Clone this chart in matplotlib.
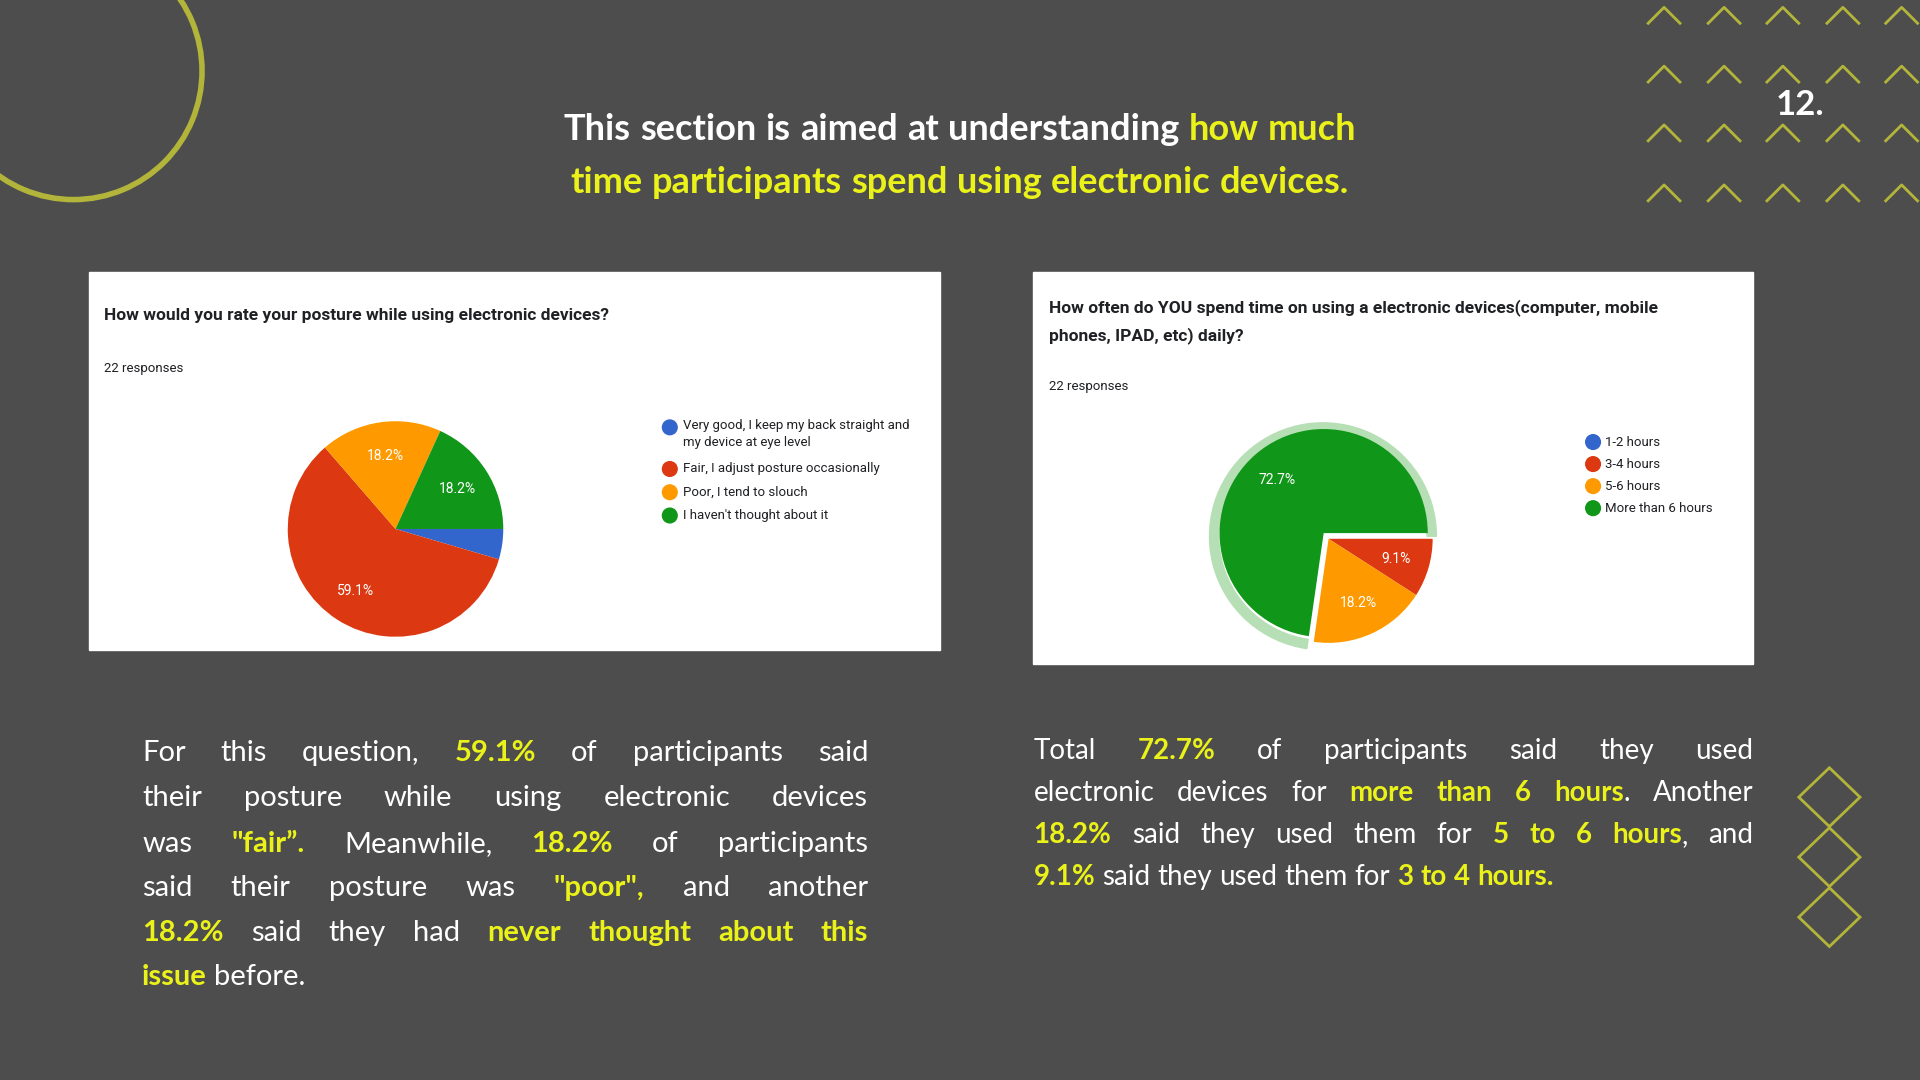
import matplotlib.pyplot as plt
from matplotlib.patches import Rectangle, Ellipse, Arc, Wedge, Polygon

BG = '#4d4d4d'
YEL = '#eaf21a'
OLIVE = '#b3b53a'
PIE_COLORS = ['#3366cc', '#dc3912', '#ff9900', '#109618']

# data
posture_labels = ['Very good, I keep my back straight and\nmy device at eye level',
                  'Fair, I adjust posture occasionally',
                  'Poor, I tend to slouch',
                  "I haven't thought about it"]
posture_counts = [1, 13, 4, 4]
hours_labels = ['1-2 hours', '3-4 hours', '5-6 hours', 'More than 6 hours']
hours_counts = [0, 2, 4, 16]

W, H = 1568, 882  # reference layout units
fig = plt.figure(figsize=(19.2, 10.8), dpi=100, facecolor=BG)
plt.rcParams['font.family'] = ['Lato', 'DejaVu Sans']
renderer = fig.canvas.get_renderer()
SC = 1920 / W


def fx(x):
    return x / W


def fy(y):
    return 1 - y / H


def txt(x, y, s, **kw):
    return fig.text(fx(x), fy(y), s, transform=fig.transFigure, **kw)


# decorations
fig.patches.append(Arc((fx(60), fy(58)), 2 * 105 / W, 2 * 105 / H, theta1=0, theta2=360,
                       transform=fig.transFigure, color=OLIVE, lw=4))
for ry in [12, 60, 108, 157]:
    for cx in [1359, 1408, 1456, 1505, 1553]:
        fig.lines.append(plt.Line2D([fx(cx - 13), fx(cx), fx(cx + 13)],
                                    [fy(ry + 7), fy(ry - 6), fy(ry + 7)],
                                    transform=fig.transFigure, color=OLIVE, lw=2))
for cy in [651, 700, 749]:
    fig.patches.append(Polygon([(fx(1469), fy(cy)), (fx(1494), fy(cy - 24)),
                                (fx(1519), fy(cy)), (fx(1494), fy(cy + 24))],
                               closed=True, fill=False, edgecolor=OLIVE, lw=2,
                               transform=fig.transFigure))
txt(1470, 86, '12.', color='white', fontsize=25, fontweight='bold', ha='center', va='center', zorder=3)


def draw_line(x0, y, width, tokens, size, justify=True, center=False):
    """tokens: (text, bold, yellow, attach)"""
    objs = []
    for t, b, yl, att in tokens:
        o = txt(0, y, t, fontsize=size, fontweight='bold' if b else 'normal',
                color=YEL if yl else 'white', va='center')
        objs.append((o, o.get_window_extent(renderer).width, att))
    total = sum(w for _, w, _ in objs)
    gaps = sum(1 for _, _, a in objs[1:] if not a)
    a1 = txt(0, y, 'a a', fontsize=size)
    a2 = txt(0, y, 'aa', fontsize=size)
    sp = a1.get_window_extent(renderer).width - a2.get_window_extent(renderer).width
    a1.remove(); a2.remove()
    gap = (width * SC - total) / gaps if (justify and gaps) else sp
    cur = x0 * SC
    if center:
        cur = x0 * SC - (total + gap * gaps) / 2
    for i, (o, w, att) in enumerate(objs):
        if i > 0 and not att:
            cur += gap
        o.set_x(cur / 1920)
        cur += w


def parse(s):
    # segments separated by '|': prefix '*' = bold yellow; '+' = attach to previous
    out = []
    for seg in s.split('|'):
        by = seg.startswith('*')
        seg = seg.lstrip('*')
        att = seg.startswith('+')
        seg = seg.lstrip('+')
        for i, wd in enumerate(seg.split()):
            out.append((wd, by, by, att and i == 0))
    return out


# title
draw_line(784, 106, 0, [(w, True, False, False) for w in 'This section is aimed at understanding'.split()]
          + [(w, True, True, False) for w in 'how much'.split()], 26, justify=False, center=True)
draw_line(784, 149, 0, [(w, True, True, False) for w in
                        'time participants spend using electronic devices.'.split()], 26,
          justify=False, center=True)

# panels
for x0, y0, x1, y1 in [(73, 222, 768, 531), (844, 222, 1432, 542)]:
    fig.patches.append(Rectangle((fx(x0), fy(y1)), (x1 - x0) / W, (y1 - y0) / H,
                                 color='white', transform=fig.transFigure, zorder=0))
kw = dict(family='Roboto', color='#202124')
txt(85, 258, 'How would you rate your posture while using electronic devices?',
    fontsize=12.5, fontweight='bold', va='center', **kw)
txt(85, 301, '22 responses', fontsize=9.5, va='center', **kw)
txt(857, 251, 'How often do YOU spend time on using a electronic devices(computer, mobile',
    fontsize=12.5, fontweight='bold', va='center', **kw)
txt(857, 274, 'phones, IPAD, etc) daily?', fontsize=12.5, fontweight='bold', va='center', **kw)
txt(857, 316, '22 responses', fontsize=9.5, va='center', **kw)


def pct(p):
    return '' if p < 5 else f'{p:.1f}%'


def pie_ax(cx, cy, r):
    s = r * 2.4
    a = fig.add_axes([fx(cx - s / 2), fy(cy + s / 2), s / W, s / H])
    a.set_zorder(3)
    return a


ax1 = pie_ax(323, 432, 88)
ax1.pie(posture_counts, colors=PIE_COLORS, startangle=0, counterclock=False,
        autopct=pct, pctdistance=0.68, radius=1 / 1.2,
        textprops=dict(color='white', fontsize=10, family='Roboto'))
ax1.set_xlim(-1, 1); ax1.set_ylim(-1, 1); ax1.axis('off')

ax2 = pie_ax(1085, 440, 85)
green_span = 360 * hours_counts[3] / sum(hours_counts)
gx, gy = -0.045, 0.02
ax2.add_patch(Wedge((gx, gy), 1.09 / 1.2, 0, green_span, width=0.09 / 1.2,
                    color='#b7dfb5'))
ax2.pie(hours_counts, colors=PIE_COLORS, startangle=0, counterclock=False,
        autopct=pct, pctdistance=0.68, radius=1 / 1.2, explode=[0, 0, 0, 0.06],
        textprops=dict(color='white', fontsize=10, family='Roboto'))
ax2.set_xlim(-1, 1); ax2.set_ylim(-1, 1); ax2.axis('off')


def dot(x, y, c):
    fig.patches.append(Ellipse((fx(x), fy(y)), 12 / W, 12 / H, transform=fig.transFigure,
                               color=c, zorder=3))


# legends
for i, (lab, ly) in enumerate(zip(posture_labels, [349, 383, 402, 421])):
    dot(547, ly, PIE_COLORS[i])
    if i == 0:
        txt(558, ly - 7, lab, fontsize=9.5, va='top', linespacing=1.4, **kw)
    else:
        txt(558, ly, lab, fontsize=9.5, va='center', **kw)
for i, (lab, ly) in enumerate(zip(hours_labels, [361, 379, 397, 415])):
    dot(1301, ly, PIE_COLORS[i])
    txt(1311, ly, lab, fontsize=9.5, va='center', **kw)

# left paragraph
left_lines = [
    'For this question,|*59.1%|of participants said',
    'their posture while using electronic devices',
    'was|*"fair”.|Meanwhile,|*18.2%|of participants',
    'said their posture was|*"poor",|and another',
    '*18.2%|said they had|*never thought about this',
]
ys = [615, 652, 689, 725, 762]
for s, y in zip(left_lines, ys):
    draw_line(116, y, 593, parse(s), 21)
draw_line(116, 798, 593, parse('*issue|before.'), 21, justify=False)

right_lines = [
    'Total|*72.7%|of participants said they used',
    'electronic devices for|*more than 6 hours|+. Another',
    '*18.2%|said they used them for|*5 to 6 hours|+, and',
]
for s, y in zip(right_lines, [613, 648, 682]):
    draw_line(844, y, 588, parse(s), 20)
draw_line(844, 716, 588, parse('*9.1%|said they used them for|*3 to 4 hours.'), 20, justify=False)

fig.savefig('out.png', dpi=100, facecolor=BG)
